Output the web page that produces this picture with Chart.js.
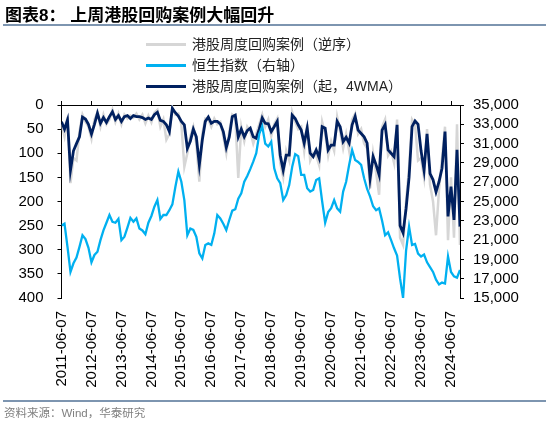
<!DOCTYPE html>
<html><head><meta charset="utf-8">
<script src="https://cdn.jsdelivr.net/npm/chart.js@4.4.1/dist/chart.umd.min.js"></script>
<style>
html,body{margin:0;padding:0;background:#fff;}
#wrap{position:relative;width:550px;height:423px;overflow:hidden;}
#c{position:absolute;left:0;top:0;}
.title{position:absolute;left:5px;top:7px;font-family:"Liberation Sans","Noto Sans CJK SC",sans-serif;font-weight:bold;font-size:17px;line-height:18px;color:#000;white-space:nowrap;}
.rule{position:absolute;left:3px;width:543px;height:2px;background:#7d95b0;}
.legline{position:absolute;left:146px;width:40px;height:2.5px;}
.legtxt{position:absolute;left:192px;font-family:"Liberation Sans","Noto Sans CJK SC",sans-serif;font-size:14px;line-height:14px;color:#222;white-space:nowrap;}
.src{position:absolute;left:4px;top:406px;font-family:"Liberation Sans","Noto Sans CJK SC",sans-serif;font-size:11.5px;line-height:14px;color:#808080;white-space:nowrap;}
</style></head>
<body>
<div id="wrap">
<canvas id="c" width="550" height="423"></canvas>
<div class="title">图表8： 上周港股回购案例大幅回升</div>
<div class="rule" style="top:24px"></div>
<div id="legend"></div>
<div class="rule" style="top:400px"></div>
<div class="src">资料来源：Wind，华泰研究</div>
</div>
<script>
const dateLabels = ['2011-06-07','2012-06-07','2013-06-07','2014-06-07','2015-06-07','2016-06-07','2017-06-07','2018-06-07','2019-06-07','2020-06-07','2021-06-07','2022-06-07','2023-06-07','2024-06-07'];
const sampleStepYears = 0.1;
const seriesNames = ['港股周度回购案例（逆序）','恒生指数（右轴）','港股周度回购案例（起，4WMA）'];

const buybackWeekly = [
 40,65,25,162,110,115,55,20,35,45,
 70,30,15,45,20,40,30,10,35,18,
 40,20,28,22,26,18,30,20,38,22,
 36,16,10,45,30,72,60,5,20,18,
 40,128,100,65,45,80,159,60,28,30,
 45,28,40,35,65,100,55,20,25,151,
 45,75,45,55,80,60,40,20,45,30,
 65,40,28,120,150,95,115,15,35,50,
 45,95,40,115,100,105,125,35,60,105,
 75,95,25,55,90,60,95,30,18,60,
 50,80,90,173,100,140,186,45,30,105,
 95,120,30,275,290,200,130,30,40,115,
 110,150,50,165,200,270,175,110,45,280,
 150,275,40,290
];
const buyback4wma = [
 35,50,31,135,95,80,66,25,29,40,
 60,40,17,38,26,36,24,14,30,22,
 34,24,22,28,22,24,24,26,30,27,
 30,20,15,32,34,41,55,7,16,23,
 34,41,90,75,50,66,124,72,34,25,
 38,34,34,39,55,88,66,24,21,66,
 50,66,53,48,66,69,50,27,38,39,
 55,45,34,104,135,104,104,21,28,41,
 52,79,48,100,107,93,110,45,48,93,
 83,83,34,45,76,67,79,41,24,52,
 59,66,79,152,107,124,145,52,41,93,
 100,107,41,250,265,215,150,45,33,40,
 95,135,60,142,155,180,159,131,55,231,
 169,238,93,252
];
const hsi = [
 22500,22700,20300,17700,18600,19200,20300,21500,21100,20200,
 18700,19460,19800,21000,22000,22800,23600,22900,22800,23200,
 21000,21350,22300,23300,22900,23250,22200,22000,21600,22800,
 23500,24460,25150,23200,23600,23600,24100,24700,26500,28100,
 27050,25150,21500,22200,22050,21350,19630,19100,20500,20660,
 20500,21700,23600,23250,22700,22050,23080,24050,24200,25300,
 25850,27050,27650,28350,29130,30000,32000,32800,31000,30700,
 31200,28440,27400,26900,25150,25670,26700,28600,29900,29700,
 27750,27750,26370,26030,26200,27230,27400,25000,22800,23900,
 24300,25150,24290,23940,26030,27050,28780,30340,29300,29100,
 28800,27400,26300,25500,24500,24100,24300,23000,21500,21800,
 21000,20150,19400,17000,15000,19900,22400,20500,20600,19600,
 19300,19500,18700,18200,17700,16900,16400,16600,16500,19300,
 17700,17250,17100,17900
];
const leftAxis = {min:0, max:400, step:50};
const rightAxis = {min:15000, max:35000, step:2000};

const colors = ['#d6d6d6','#00b0f0','#002060'];
const toPoints = arr => arr.map((v,i)=>({x: i*sampleStepYears, y: v}));
const xMax = (hsi.length-1)*sampleStepYears;

const lg = document.getElementById('legend');
const rowY = [44.5, 65.6, 86.6];
seriesNames.forEach((n,k)=>{
  const l = document.createElement('div'); l.className='legline';
  l.style.top = (rowY[k]-1.25)+'px'; l.style.background = colors[k]; lg.appendChild(l);
  const t = document.createElement('div'); t.className='legtxt';
  t.style.top = (rowY[k]-7.5)+'px'; t.textContent = n; lg.appendChild(t);
});

const axisFont = {family:'"Liberation Sans", Arial, sans-serif', size:15};
new Chart(document.getElementById('c'), {
  type:'line',
  data:{ datasets:[
    {label:seriesNames[1], data:toPoints(hsi), xAxisID:'x', yAxisID:'y2', borderColor:colors[1], borderWidth:2.3, pointRadius:0, tension:0, order:1},
    {label:seriesNames[2], data:toPoints(buyback4wma), xAxisID:'x', yAxisID:'y', borderColor:colors[2], borderWidth:2.8, pointRadius:0, tension:0, order:2},
    {label:seriesNames[0], data:toPoints(buybackWeekly), xAxisID:'x', yAxisID:'y', borderColor:colors[0], borderWidth:2.5, pointRadius:0, tension:0, order:3}
  ]},
  options:{
    responsive:false, animation:false,
    layout:{padding:0},
    plugins:{legend:{display:false}, title:{display:false}, tooltip:{enabled:false}},
    scales:{
      x:{type:'linear', position:'top', min:0, max:xMax,
         ticks:{display:false, stepSize:1, includeBounds:false},
         grid:{drawOnChartArea:false, drawTicks:true, tickLength:4, color:'#000', lineWidth:1},
         border:{display:true, color:'#000', width:1},
         afterFit(s){ s.height = 105; }},
      xl:{type:'linear', position:'bottom', min:0, max:xMax,
         ticks:{stepSize:1, includeBounds:false, autoSkip:false, maxRotation:90, minRotation:90, padding:13, color:'#000', font:axisFont,
                callback:(v)=> (dateLabels[v] !== undefined ? dateLabels[v] : '')},
         grid:{display:false, drawTicks:false},
         border:{display:false},
         afterFit(s){ s.height = 125; }},
      y:{position:'left', reverse:true, min:leftAxis.min, max:leftAxis.max,
         ticks:{stepSize:leftAxis.step, autoSkip:false, padding:14, color:'#000', font:axisFont},
         grid:{drawOnChartArea:false, tickLength:4, color:'#000'},
         border:{color:'#000', width:1},
         afterFit(s){ s.width = 61.5; }},
      y2:{position:'right', min:rightAxis.min, max:rightAxis.max,
         ticks:{stepSize:rightAxis.step, autoSkip:false, padding:9, color:'#000', font:axisFont,
                callback:(v)=> v.toLocaleString('en-US')},
         grid:{drawOnChartArea:false, tickLength:4, color:'#000'},
         border:{color:'#000', width:1},
         afterFit(s){ s.width = 90; }}
    }
  }
});
</script>
</body></html>
